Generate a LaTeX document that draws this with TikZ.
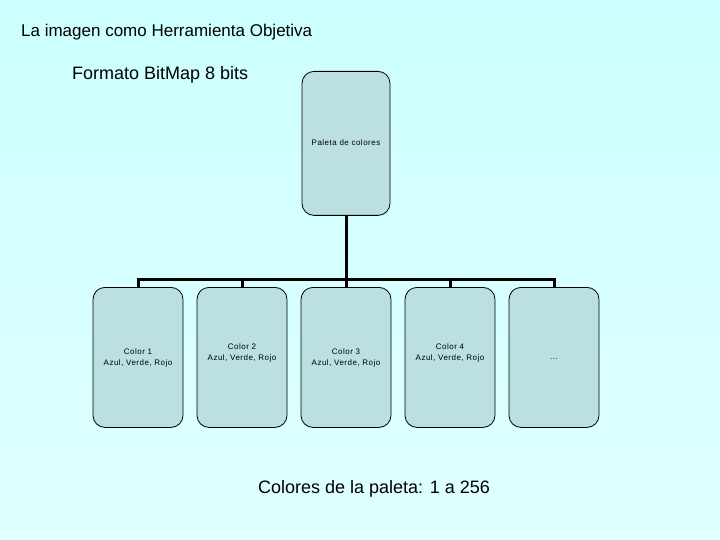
\documentclass[tikz,border=0pt]{standalone}
\usepackage{fontspec}
\setmainfont{Liberation Sans}
\newfontfamily\spaced[LetterSpace=6]{Liberation Sans}
\definecolor{bgtop}{RGB}{204,255,255}
\definecolor{bgbot}{RGB}{224,255,255}
\definecolor{boxfill}{RGB}{188,223,226}
\begin{document}
\begin{tikzpicture}[x=1pt,y=-1pt,
  orgbox/.style={draw=black,line width=0.8pt,fill=boxfill,rounded corners=12pt,
    minimum width=90pt,minimum height=142pt,inner sep=0pt,anchor=north},
  small/.style={font=\spaced\fontsize{8}{11.5}\selectfont,align=center},
  conn/.style={line width=3pt}]
\shade[top color=bgtop,bottom color=bgbot] (0,0) rectangle (720,540);
\useasboundingbox (0,0) rectangle (720,540);
\node[anchor=west,inner sep=0pt,font=\fontsize{17}{20}\selectfont] (title) at (21,32) {La imagen como Herramienta Objetiva};
\node[anchor=west,inner sep=0pt,font=\fontsize{18}{21}\selectfont] (fmt) at (72,75) {Formato BitMap 8 bits};
\node[orgbox,minimum width=88pt,minimum height=144pt] (top) at (346,71) {};
\node[small] at (346,143) {Paleta de colores};
\foreach \i/\x in {1/138,2/242,3/346,4/450,5/554}{
  \node[orgbox,minimum height=140pt] (b\i) at (\x,287) {};
}
\node[small] at (138,358) {Color 1\\Azul, Verde, Rojo};
\node[small] at (242,353) {Color 2\\Azul, Verde, Rojo};
\node[small] at (346,358) {Color 3\\Azul, Verde, Rojo};
\node[small] at (450,353) {Color 4\\Azul, Verde, Rojo};
\node[small] at (554,359) {...};
\coordinate (bar) at (346,279);
\draw[conn] (top.south) -- (bar);
\draw[conn] (b1.north) -- (b1.north |- bar) -- (b5.north |- bar) -- (b5.north);
\foreach \i in {2,3,4}{\draw[conn] (b\i.north) -- (b\i.north |- bar);}
\node[inner sep=0pt,font=\fontsize{18}{21}\selectfont] (cap) at (374,489) {Colores de la paleta: 1 a 256};
\end{tikzpicture}
\end{document}
